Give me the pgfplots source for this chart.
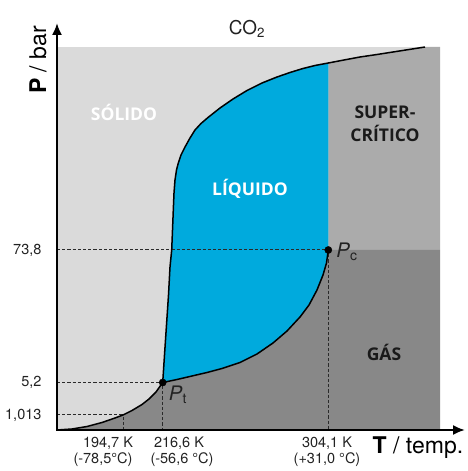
\documentclass[border=0pt]{standalone}
\usepackage{fontspec}
\setmainfont{TeX Gyre Heros}
\newfontfamily\labelfont{Open Sans}
\usepackage{pgfplots}
\pgfplotsset{compat=1.18}
\usetikzlibrary{arrows.meta}
\definecolor{solidc}{HTML}{DADADA}
\definecolor{superc}{HTML}{ABABAB}
\definecolor{gasc}{HTML}{888888}
\definecolor{liqc}{HTML}{00AADD}
\definecolor{lblc}{HTML}{1A1A1A}
\definecolor{dashc}{HTML}{2A2A2A}
\definecolor{txtc}{HTML}{222222}
\begin{document}
\begin{tikzpicture}
\useasboundingbox (0,0) rectangle (467pt,471pt);
\begin{axis}[at={(57pt,41pt)}, anchor=south west, scale only axis,
  width=383pt, height=383pt, xmin=0, xmax=383, ymin=0, ymax=383,
  hide axis, clip=false]
% solid background
\addplot[fill=solidc, draw=none] coordinates {(0,0)(383,0)(383,383)(0,383)} -- cycle;
% supercritical
\addplot[fill=superc, draw=none] coordinates {(271.3,180)(271.3,367)(287,370)(303,373)(320,375.5)(336,378)(352,380.5)(368,383)(383,383)(383,180)} -- cycle;
% liquid
\addplot[fill=liqc, draw=none] coordinates {(105.7,47.5)(107.5,75)(109.5,105)(111.5,135)(113,163)(114.7,180)(115.5,200)(116.3,220)(117,237)(118,250)(119.5,260)(121.3,267)(124,275)(128,283)(133,292)(138,300)(144,306.5)(151,312.5)(163,322)(176,331)(190,339.5)(205,347)(220,353)(233,357.5)(246,361.5)(258,364.5)(271.3,367)(271.3,180)(269.5,167)(266,155)(260,140)(252,125)(243,113)(230,99)(216,87)(200,76)(183,67.5)(165,61.5)(150,57.5)(135,54)(120,50.5)} -- cycle;
% gas
\addplot[fill=gasc, draw=none] coordinates {(383,0)(0,0)(15,1)(30,3.5)(45,7.5)(58,12)(66,15)(75,19.5)(85,25.5)(92,31)(99,38)(105.7,47.5)(120,50.5)(135,54)(150,57.5)(165,61.5)(183,67.5)(200,76)(216,87)(230,99)(243,113)(252,125)(260,140)(266,155)(269.5,167)(271.3,180)(383,180)} -- cycle;
% dashed guide lines
\addplot[dashc, line width=1pt, dash pattern=on 3.2pt off 2pt] coordinates {(0,15)(66,15)(66,0)};
\addplot[dashc, line width=1pt, dash pattern=on 3.2pt off 2pt] coordinates {(0,47.5)(105.7,47.5)(105.7,0)};
\addplot[dashc, line width=1pt, dash pattern=on 3.2pt off 2pt] coordinates {(0,180)(271.3,180)(271.3,0)};
% phase boundaries
\addplot[black, line width=1.5pt] coordinates {(0,0)(15,1)(30,3.5)(45,7.5)(58,12)(66,15)(75,19.5)(85,25.5)(92,31)(99,38)(105.7,47.5)};
\addplot[black, line width=1.5pt] coordinates {(105.7,47.5)(120,50.5)(135,54)(150,57.5)(165,61.5)(183,67.5)(200,76)(216,87)(230,99)(243,113)(252,125)(260,140)(266,155)(269.5,167)(271.3,180)};
\addplot[black, line width=1.5pt] coordinates {(105.7,47.5)(107.5,75)(109.5,105)(111.5,135)(113,163)(114.7,180)(115.5,200)(116.3,220)(117,237)(118,250)(119.5,260)(121.3,267)(124,275)(128,283)(133,292)(138,300)(144,306.5)(151,312.5)(163,322)(176,331)(190,339.5)(205,347)(220,353)(233,357.5)(246,361.5)(258,364.5)(271.3,367)(287,370)(303,373)(320,375.5)(336,378)(352,380.5)(368,383)};
% triple and critical points
\addplot[only marks, mark=*, mark size=3.6pt, black] coordinates {(105.7,47.5)(271.3,180)};
% axes
\draw[line width=2pt, {Latex[length=12pt,width=10pt]}-{Latex[length=12pt,width=10pt]}] (axis cs:0,407) -- (axis cs:0,0) -- (axis cs:408,0);
% tick labels
\node[anchor=east, txtc, font=\fontsize{14.5}{14.5}\selectfont] at (axis cs:-12,180) {73,8};
\node[anchor=east, txtc, font=\fontsize{14.5}{14.5}\selectfont] at (axis cs:-12,47.5) {5,2};
\node[anchor=east, txtc, font=\fontsize{14.5}{14.5}\selectfont] at (axis cs:-12,15) {1,013};
\node[txtc, font=\fontsize{14.5}{14.5}\selectfont] at (axis cs:51,-13) {194,7 K};
\node[txtc, font=\fontsize{14.5}{14.5}\selectfont] at (axis cs:46,-30) {(-78,5°C)};
\node[txtc, font=\fontsize{14.5}{14.5}\selectfont] at (axis cs:122,-13) {216,6 K};
\node[txtc, font=\fontsize{14.5}{14.5}\selectfont] at (axis cs:125,-30) {(-56,6 °C)};
\node[txtc, font=\fontsize{14.5}{14.5}\selectfont] at (axis cs:270,-13) {304,1 K};
\node[txtc, font=\fontsize{14.5}{14.5}\selectfont] at (axis cs:270,-30) {(+31,0 °C)};
% axis titles
\node[black, font=\fontsize{23}{23}\selectfont] at (axis cs:361,-18) {\textbf{T} / temp.};
\node[black, rotate=90, font=\fontsize{23}{23}\selectfont] at (axis cs:-19,370) {\textbf{P} / bar};
\node[txtc, font=\fontsize{19}{19}\selectfont] at (axis cs:190,401) {CO\textsubscript{2}};
% point labels
\node[txtc, font=\fontsize{20}{20}\selectfont] at (axis cs:121,35) {\textit{P}\textsubscript{t}};
\node[txtc, font=\fontsize{20}{20}\selectfont] at (axis cs:290,178) {\textit{P}\textsubscript{c}};
% region labels
\node[white, font=\labelfont\bfseries\fontsize{17.5}{17.5}\selectfont] at (axis cs:67,318) {SÓLIDO};
\node[white, font=\labelfont\bfseries\fontsize{17.5}{17.5}\selectfont] at (axis cs:193,241) {LÍQUIDO};
\node[lblc, align=center, font=\labelfont\bfseries\fontsize{17.5}{23}\selectfont] at (axis cs:328,306.5) {SUPER-\\CRÍTICO};
\node[lblc, font=\labelfont\bfseries\fontsize{17.5}{17.5}\selectfont] at (axis cs:327,78) {GÁS};
\end{axis}
\end{tikzpicture}
\end{document}
